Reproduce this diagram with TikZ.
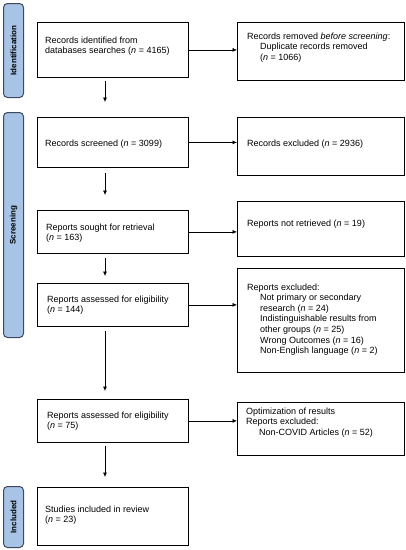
\documentclass[tikz,border=0pt]{standalone}
\usepackage{fontspec}
\setmainfont{Liberation Sans}
\usetikzlibrary{arrows.meta}
\definecolor{sideblue}{HTML}{A7C3E6}
\definecolor{sidedark}{HTML}{3E4A5C}
\begin{document}
\begin{tikzpicture}[x=1pt,y=-1pt,
  box/.style={draw=black, line width=0.8pt, anchor=north west, inner sep=0pt},
  side/.style={draw=sidedark, fill=sideblue, rounded corners=4pt, line width=1pt, anchor=north west, inner sep=0pt},
  sidetxt/.style={rotate=90, font=\fontsize{8}{9}\selectfont\bfseries, inner sep=0pt},
  txt/.style={anchor=base west, inner sep=0pt, font=\fontsize{9}{10.6}\selectfont, align=left},
  arr/.style={-{Latex[length=4.5pt,width=4pt]}, line width=0.6pt}]
\useasboundingbox (0,0) rectangle (406,550);
% side bars
\node[side, minimum width=20pt, minimum height=94pt] (sid) at (3,3) {};
\node[sidetxt] (sidt) at (sid.center) {Identification};
\node[side, minimum width=20pt, minimum height=225pt] (sscr) at (3,112) {};
\node[sidetxt] (sscrt) at (sscr.center) {Screening};
\node[side, minimum width=20pt, minimum height=61pt] (sinc) at (3,486) {};
\node[sidetxt] (sinct) at (sinc.center) {Included};
% left boxes
\node[box, minimum width=151pt, minimum height=55pt] (l1) at (37,22) {};
\node[box, minimum width=151pt, minimum height=50pt] (l2) at (37,117) {};
\node[box, minimum width=151pt, minimum height=43pt] (l3) at (37,210) {};
\node[box, minimum width=151pt, minimum height=43pt] (l4) at (37,283) {};
\node[box, minimum width=151pt, minimum height=43pt] (l5) at (37,399) {};
\node[box, minimum width=151pt, minimum height=58pt] (l6) at (37,487) {};
% right boxes
\node[box, minimum width=167pt, minimum height=58pt] (r1) at (237,22) {};
\node[box, minimum width=167pt, minimum height=58pt] (r2) at (237,117) {};
\node[box, minimum width=167pt, minimum height=55pt] (r3) at (237,201) {};
\node[box, minimum width=167pt, minimum height=104pt] (r4) at (237,268) {};
\node[box, minimum width=167pt, minimum height=53pt] (r5) at (237,402) {};
% texts (anchor = baseline of last line)
\node[txt] (t1) at (45,53.6) {Records identified from\\databases searches (\textit{n} = 4165)};
\node[txt] (t2) at (247,60.2) {Records removed \textit{before screening}:\\\hspace*{13pt}Duplicate records removed\\\hspace*{13pt}(\textit{n} = 1066)};
\node[txt] (t3) at (45,146) {Records screened (\textit{n} = 3099)};
\node[txt] (t4) at (247,146) {Records excluded (\textit{n} = 2936)};
\node[txt] (t5) at (46,240.6) {Reports sought for retrieval\\(\textit{n} = 163)};
\node[txt] (t6) at (247,226) {Reports not retrieved (\textit{n} = 19)};
\node[txt] (t7) at (47,312.6) {Reports assessed for eligibility\\(\textit{n} = 144)};
\node[txt] (t8) at (247,353.6) {Reports excluded:\\\hspace*{13pt}Not primary or secondary\\\hspace*{13pt}research (\textit{n} = 24)\\\hspace*{13pt}Indistinguishable results from\\\hspace*{13pt}other groups (\textit{n} = 25)\\\hspace*{13pt}Wrong Outcomes (\textit{n} = 16)\\\hspace*{13pt}Non-English language (\textit{n} = 2)};
\node[txt] (t9) at (47,428.6) {Reports assessed for eligibility\\(\textit{n} = 75)};
\node[txt] (t10) at (246,435.2) {Optimization of results\\Reports excluded:\\\hspace*{13pt}Non-COVID Articles (\textit{n} = 52)};
\node[txt] (t11) at (45,522.6) {Studies included in review\\(\textit{n} = 23)};
% horizontal arrows
\draw[arr] (l1.east) -- (l1.east -| r1.west);
\draw[arr] (l2.east) -- (l2.east -| r2.west);
\draw[arr] (l3.east) -- (l3.east -| r3.west);
\draw[arr] (l4.east) -- (l4.east -| r4.west);
\draw[arr] (l5.east) -- (l5.east -| r5.west);
% vertical arrows
\coordinate (ax) at (105,0);
\draw[arr] ([yshift=-3pt]l1.south -| ax) -- ([yshift=15pt]l2.north -| ax);
\draw[arr] ([yshift=-5pt]l2.south -| ax) -- ([yshift=15pt]l3.north -| ax);
\draw[arr] ([yshift=-4pt]l3.south -| ax) -- ([yshift=7pt]l4.north -| ax);
\draw[arr] ([yshift=-4pt]l4.south -| ax) -- ([yshift=8pt]l5.north -| ax);
\draw[arr] ([yshift=-3pt]l5.south -| ax) -- ([yshift=10pt]l6.north -| ax);
\end{tikzpicture}
\end{document}
